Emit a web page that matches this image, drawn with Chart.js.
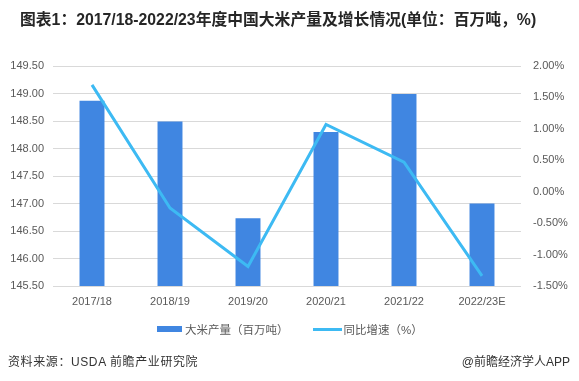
<!DOCTYPE html>
<html>
<head>
<meta charset="utf-8">
<script src="https://cdn.jsdelivr.net/npm/chart.js@4"></script>
<style>
  html, body { margin: 0; padding: 0; background: #fff; }
  #wrap { position: relative; width: 579px; height: 381px; overflow: hidden; }
  canvas { position: absolute; left: 0; top: 0; }
  .txt { position: absolute; white-space: nowrap; font-family: "Liberation Sans", Arial, "Noto Sans CJK SC", sans-serif; }
  #title { left: 20px; top: 7px; font-size: 15.8px; font-weight: bold; color: #262626; }
  #src { left: 8px; top: 352px; font-size: 12px; color: #333; letter-spacing: 0.6px; }
  #app { right: 9px; top: 352px; font-size: 12px; color: #333; }
  #legend { left: 157px; top: 321px; font-size: 11.5px; color: #595959; display: flex; align-items: center; }
  .sw { display: inline-block; }
</style>
</head>
<body>
<div id="wrap">
  <canvas id="c" width="579" height="381"></canvas>
  <div class="txt" id="title">图表1：2017/18-2022/23年度中国大米产量及增长情况(单位：百万吨，%)</div>
  <div class="txt" id="legend">
    <span class="sw" style="width:25px;height:6px;background:#4086E1;margin-right:3px"></span><span>大米产量（百万吨）</span>
    <span class="sw" style="width:29px;height:3px;background:#3DBAF3;margin-left:24px;margin-right:2px"></span><span>同比增速（%）</span>
  </div>
  <div class="txt" id="src">资料来源：USDA 前瞻产业研究院</div>
  <div class="txt" id="app">@前瞻经济学人APP</div>
</div>
<script>
const categories = ["2017/18", "2018/19", "2019/20", "2020/21", "2021/22", "2022/23E"];
const riceOutput = [148.87, 148.49, 146.73, 148.30, 148.99, 147.00];
const growthRate = [1.70, -0.26, -1.19, 1.07, 0.47, -1.34];
const leftTicks = [145.5, 146, 146.5, 147, 147.5, 148, 148.5, 149, 149.5];
const rightTicks = [-1.5, -1.0, -0.5, 0, 0.5, 1.0, 1.5, 2.0];

const tickFont = { family: "'Liberation Sans', Arial, sans-serif", size: 11 };
const tickColor = '#595959';

new Chart(document.getElementById('c'), {
  data: {
    labels: categories,
    datasets: [
      {
        type: 'line',
        label: '同比增速（%）',
        data: growthRate,
        yAxisID: 'y1',
        borderColor: '#3DBAF3',
        backgroundColor: '#3DBAF3',
        borderWidth: 3,
        pointRadius: 0,
        tension: 0,
        order: 0
      },
      {
        type: 'bar',
        label: '大米产量（百万吨）',
        data: riceOutput,
        yAxisID: 'y',
        backgroundColor: '#4086E1',
        barPercentage: 0.32,
        categoryPercentage: 1,
        order: 1
      }
    ]
  },
  options: {
    responsive: false,
    animation: false,
    layout: { padding: { top: 66, left: 0, right: 0, bottom: 0 } },
    plugins: { legend: { display: false }, title: { display: false }, tooltip: { enabled: false } },
    scales: {
      x: {
        grid: { display: false, drawTicks: false },
        border: { display: false },
        ticks: { font: tickFont, color: tickColor, padding: 9 },
        afterFit: (s) => { s.height = 95; }
      },
      y: {
        position: 'left',
        min: 145.5, max: 149.5,
        afterBuildTicks: (s) => { s.ticks = leftTicks.map(v => ({ value: v })); },
        grid: { color: '#D9D9D9', lineWidth: 1, drawTicks: false },
        border: { display: false },
        ticks: { font: tickFont, color: tickColor, padding: 9, callback: (v) => Number(v).toFixed(2) },
        afterFit: (s) => { s.width = 53; }
      },
      y1: {
        position: 'right',
        min: -1.5, max: 2.0,
        afterBuildTicks: (s) => { s.ticks = rightTicks.map(v => ({ value: v })); },
        grid: { display: false, drawTicks: false },
        border: { display: false },
        ticks: { font: tickFont, color: tickColor, padding: 12, callback: (v) => Number(v).toFixed(2) + '%' },
        afterFit: (s) => { s.width = 58; }
      }
    }
  }
});
</script>
</body>
</html>
